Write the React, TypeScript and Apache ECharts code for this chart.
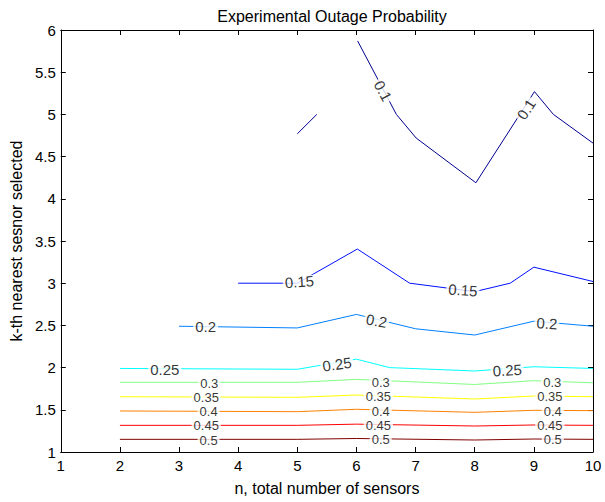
import React, { useEffect, useRef } from "react";
import * as echarts from "echarts";

// ---- data ----
const xRange = [1, 10];
const yRange = [1, 6];

const contour010a = [[5.0, 4.77], [5.33, 5.0]];
const contour010b = [[6.02, 5.87], [6.675, 5.0], [7.01, 4.72], [8.02, 4.19], [9.01, 5.27], [9.33, 5.0], [10, 4.66]];
const contour015 = [[4, 3.0], [5, 3.0], [6.015, 3.405], [6.9, 3.0], [8.0, 2.9], [8.6, 3.0], [9, 3.19], [10, 3.02]];
const contour020 = [[3, 2.49], [5, 2.47], [6, 2.63], [7, 2.46], [8, 2.386], [9, 2.55], [10, 2.49]];
const contour025 = [[2, 1.99], [5, 1.98], [6, 2.1], [6.56, 2.0], [8, 1.96], [9, 2.01], [10, 1.99]];
const contour030 = [[2, 1.826], [5, 1.826], [6, 1.86], [8, 1.8], [9, 1.845], [10, 1.82]];
const contour035 = [[2, 1.655], [5, 1.648], [6, 1.675], [8, 1.628], [9, 1.663], [10, 1.655]];
const contour040 = [[2, 1.486], [5, 1.478], [6, 1.506], [8, 1.47], [9, 1.494], [10, 1.49]];
const contour045 = [[2, 1.316], [5, 1.316], [6, 1.33], [8, 1.308], [9, 1.32], [10, 1.316]];
const contour050 = [[2, 1.15], [5, 1.15], [6, 1.16], [8, 1.142], [9, 1.154], [10, 1.15]];

// contour label texts and their positions in data coordinates
const labelTexts = ["0.1", "0.1", "0.15", "0.15", "0.2", "0.2", "0.2", "0.25", "0.25", "0.25",
  "0.3", "0.3", "0.3", "0.35", "0.35", "0.35", "0.4", "0.4", "0.4", "0.45", "0.45", "0.45", "0.5", "0.5", "0.5"];
const labelX = [6.45, 8.87, 5.035, 7.8, 3.45, 6.34, 9.22, 2.76, 5.67, 8.55,
  3.51, 6.41, 9.31, 3.46, 6.37, 9.27, 3.5, 6.41, 9.32, 3.46, 6.37, 9.27, 3.5, 6.41, 9.32];
const labelY = [5.28, 5.06, 3.018, 2.92, 2.49, 2.555, 2.525, 1.98, 2.04, 1.97,
  1.816, 1.826, 1.826, 1.65, 1.655, 1.655, 1.48, 1.482, 1.482, 1.31, 1.316, 1.316, 1.142, 1.15, 1.15];
const labelAngle = [-62, 57, 4, -4, 0, -10, -3, 0, 8, 3,
  0, 0, 0, 0, 0, 0, 0, 0, 0, 0, 0, 0, 0, 0, 0];

const FONT = "'Liberation Sans', Arial, Helvetica, sans-serif";

export default function App() {
  const ref = useRef<HTMLDivElement>(null);
  useEffect(() => {
    document.body.style.margin = "0";
    if (!ref.current) return;
    const chart = echarts.init(ref.current, undefined, { renderer: "svg" });

    const lineSeries = (data: number[][], color: string) => ({
      type: "line",
      data,
      symbol: "none",
      showSymbol: false,
      silent: true,
      lineStyle: { color, width: 1 },
      z: 2,
    });

    const labelData = labelTexts.map((t, i) => ({
      value: [labelX[i], labelY[i]],
      label: { formatter: t, rotate: labelAngle[i], fontSize: i < 10 ? 15 : 13 },
    }));

    const axisCommonX = {
      type: "value",
      min: xRange[0],
      max: xRange[1],
      interval: 1,
      splitLine: { show: false },
      axisLine: { show: true, lineStyle: { color: "#000", width: 1 } },
      axisTick: { show: true, inside: true, length: 5, lineStyle: { color: "#000" } },
    };
    const axisCommonY = {
      type: "value",
      min: yRange[0],
      max: yRange[1],
      interval: 0.5,
      splitLine: { show: false },
      axisLine: { show: true, lineStyle: { color: "#000", width: 1 } },
      axisTick: { show: true, inside: true, length: 5, lineStyle: { color: "#000" } },
    };

    chart.setOption({
      animation: false,
      backgroundColor: "#fff",
      textStyle: { fontFamily: FONT },
      title: {
        text: "Experimental Outage Probability",
        left: 327,
        textAlign: "center",
        top: 3,
        textStyle: { fontFamily: FONT, fontSize: 16, fontWeight: "normal", color: "#000" },
      },
      grid: { left: 57, right: 12, top: 30, bottom: 50, containLabel: false },
      xAxis: [
        {
          ...axisCommonX,
          position: "bottom",
          name: "n, total number of sensors",
          nameLocation: "middle",
          nameGap: 28,
          nameTextStyle: { fontFamily: FONT, fontSize: 16, color: "#000" },
          axisLabel: { color: "#000", fontFamily: FONT, fontSize: 15, margin: 6 },
        },
        { ...axisCommonX, position: "top", axisLabel: { show: false } },
      ],
      yAxis: [
        {
          ...axisCommonY,
          position: "left",
          name: "k-th nearest sesnor selected",
          nameLocation: "middle",
          nameRotate: 90,
          nameGap: 36,
          nameTextStyle: { fontFamily: FONT, fontSize: 16, color: "#000" },
          axisLabel: { color: "#000", fontFamily: FONT, fontSize: 15, margin: 5 },
        },
        { ...axisCommonY, position: "right", axisLabel: { show: false } },
      ],
      series: [
        lineSeries(contour010a, "#00008f"),
        lineSeries(contour010b, "#00008f"),
        lineSeries(contour015, "#0010ff"),
        lineSeries(contour020, "#0080ff"),
        lineSeries(contour025, "#00ffff"),
        lineSeries(contour030, "#80ff80"),
        lineSeries(contour035, "#ffff00"),
        lineSeries(contour040, "#ff8000"),
        lineSeries(contour045, "#ff0000"),
        lineSeries(contour050, "#800000"),
        {
          type: "scatter",
          data: labelData,
          symbolSize: 1,
          silent: true,
          itemStyle: { color: "rgba(0,0,0,0)" },
          z: 10,
          label: {
            show: true,
            position: "inside",
            color: "#000",
            fontFamily: FONT,
            lineHeight: 12,
            backgroundColor: "#fff",
            padding: [0, 2],
          },
        },
      ],
    });
    return () => chart.dispose();
  }, []);
  return <div ref={ref} style={{ width: 605, height: 502 }} />;
}
